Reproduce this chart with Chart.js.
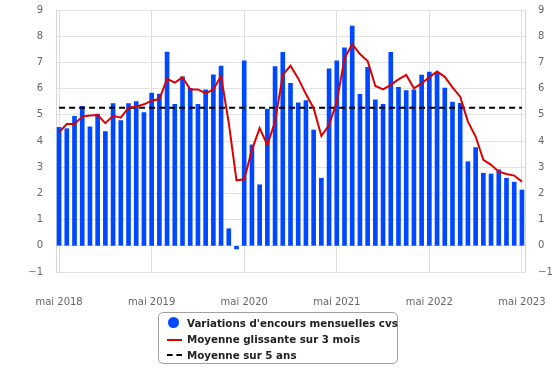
<!DOCTYPE html>
<html>
<head>
<meta charset="utf-8">
<script src="https://cdn.jsdelivr.net/npm/chart.js@4/dist/chart.umd.min.js"></script>
<style>
  html, body { margin: 0; padding: 0; background: #fff; }
  #wrap { position: relative; width: 558px; height: 372px; }
  #legend {
    position: absolute; left: 158px; top: 312px; width: 240px; height: 52px;
    border: 1px solid #a0a0a0; border-radius: 5px; background: #fff;
    font-family: "DejaVu Sans", sans-serif; font-weight: bold; font-size: 10.3px; color: #222;
    box-sizing: border-box; padding-top: 2px;
  }
  .item { position: relative; height: 16px; line-height: 16px; padding-left: 28px; white-space: nowrap; }
  .sym { position: absolute; left: 8px; top: 8px; }
  .dot { width: 11px; height: 11px; border-radius: 50%; background: #0048ff; left: 9px; top: 2px; }
  .red { width: 15px; height: 2px; background: #dd0000; top: 8px; }
  .dash { width: 15px; height: 0; border-top: 2px dashed #000; top: 7px; }
</style>
</head>
<body>
<div id="wrap">
  <canvas id="c" width="558" height="372"></canvas>
  <div id="legend">
    <div class="item"><span class="sym dot"></span>Variations d'encours mensuelles cvs</div>
    <div class="item"><span class="sym red"></span>Moyenne glissante sur 3 mois</div>
    <div class="item"><span class="sym dash"></span>Moyenne sur 5 ans</div>
  </div>
</div>
<script>
// Monthly data, May 2018 .. May 2023 (index 0 = mai 2018)
const monthlyChange = [
  4.52, 4.47, 4.94, 5.32, 4.54, 5.03, 4.36, 5.43, 4.78, 5.43, 5.50, 5.08,
  5.83, 5.79, 7.39, 5.40, 6.45, 6.01, 5.40, 5.95, 6.53, 6.86, 0.65, -0.12,
  7.06, 3.85, 2.33, 5.22, 6.84, 7.38, 6.20, 5.46, 5.54, 4.42, 2.58, 6.75,
  7.06, 7.56, 8.39, 5.78, 6.81, 5.57, 5.40, 7.38, 6.05, 5.92, 5.95, 6.52,
  6.63, 6.61, 6.02, 5.49, 5.44, 3.21, 3.75, 2.77, 2.74, 2.90, 2.58, 2.43,
  2.13
];
const movingAvg3 = [
  4.33, 4.65, 4.65, 4.93, 4.97, 4.99, 4.68, 4.96, 4.89, 5.27, 5.31, 5.40,
  5.54, 5.60, 6.37, 6.23, 6.43, 5.97, 5.97, 5.82, 5.97, 6.48, 4.68, 2.50,
  2.54, 3.66, 4.49, 3.85, 4.74, 6.52, 6.87, 6.39, 5.79, 5.25, 4.19, 4.61,
  5.50, 7.15, 7.70, 7.32, 7.05, 6.10, 5.97, 6.14, 6.35, 6.52, 6.01, 6.20,
  6.43, 6.65, 6.45, 6.05, 5.69, 4.74, 4.17, 3.28, 3.09, 2.83, 2.74, 2.68,
  2.45
];
const avg5y = 5.27;
const xTickPositions = [0, 12, 24, 36, 48, 60];
const xTickLabels = ["mai 2018", "mai 2019", "mai 2020", "mai 2021", "mai 2022", "mai 2023"];
const yTicks = [-1, 0, 1, 2, 3, 4, 5, 6, 7, 8, 9];

const barPts = monthlyChange.map((v, i) => ({ x: i, y: v }));
const linePts = movingAvg3.map((v, i) => ({ x: i, y: v }));
const avgPts = monthlyChange.map((v, i) => ({ x: i, y: avg5y }));

const tickFont = { family: "DejaVu Sans", size: 10 };
const fmtY = v => (v < 0 ? "\u2212" + Math.abs(v) : String(v));

new Chart(document.getElementById("c"), {
  type: "bar",
  data: {
    datasets: [
      { type: "line", label: "Moyenne glissante sur 3 mois", data: linePts, borderColor: "#dd0000",
        borderWidth: 2, pointRadius: 0, tension: 0, order: 0, yAxisID: "y" },
      { type: "line", label: "Moyenne sur 5 ans", data: avgPts, borderColor: "#000",
        borderWidth: 2, borderDash: [6, 4], pointRadius: 0, order: 1, yAxisID: "y" },
      { type: "bar", label: "Variations d'encours mensuelles cvs", data: barPts, backgroundColor: "#0048ff",
        barThickness: 4, order: 2, yAxisID: "y" }
    ]
  },
  options: {
    responsive: false,
    animation: false,
    layout: { padding: { top: 10, bottom: 0, left: 0, right: 0 } },
    plugins: { legend: { display: false }, tooltip: { enabled: false } },
    scales: {
      x: {
        type: "linear", min: -0.4, max: 60.4, offset: false,
        afterBuildTicks: s => { s.ticks = xTickPositions.map(v => ({ value: v })); },
        afterFit: s => { s.height = 100; s.paddingLeft = 0; s.paddingRight = 0; },
        ticks: { font: tickFont, color: "#666", padding: 24, maxRotation: 0,
          callback: v => xTickLabels[xTickPositions.indexOf(v)] },
        grid: { color: "#dedede", drawTicks: false, offset: false },
        border: { display: false }
      },
      y: {
        position: "left", min: -1, max: 9,
        afterBuildTicks: s => { s.ticks = yTicks.map(v => ({ value: v })); },
        afterFit: s => { s.width = 56; s.paddingTop = 0; s.paddingBottom = 0; },
        ticks: { font: tickFont, color: "#666", padding: 13, callback: fmtY },
        grid: { color: "#e2e2e2", drawTicks: false },
        border: { display: true, color: "#d3d7de", width: 1 }
      },
      y2: {
        position: "right", min: -1, max: 9,
        afterBuildTicks: s => { s.ticks = yTicks.map(v => ({ value: v })); },
        afterFit: s => { s.width = 33; s.paddingTop = 0; s.paddingBottom = 0; },
        ticks: { font: tickFont, color: "#666", padding: 13, callback: fmtY },
        grid: { display: false, drawTicks: false },
        border: { display: true, color: "#d3d7de", width: 1 }
      }
    }
  }
});
</script>
</body>
</html>
